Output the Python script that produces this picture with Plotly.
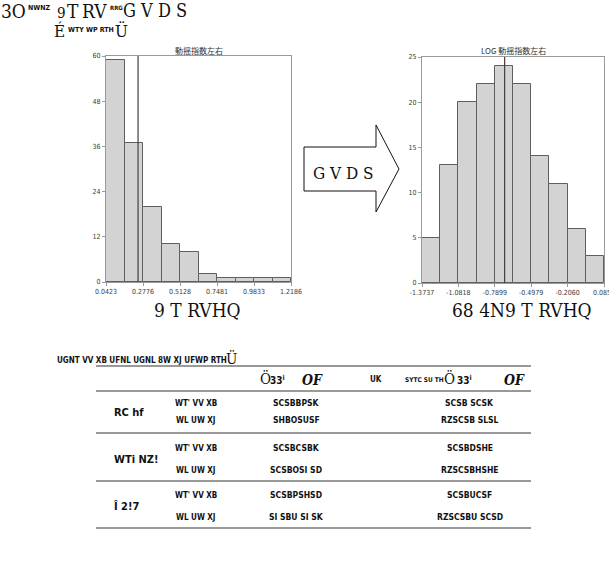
import numpy as np
import plotly.graph_objects as go

W, H = 609, 562

# ---------------- data ----------------
raw_range = [0.0423, 1.2186]
raw_counts = [59, 37, 20, 10, 8, 2, 1, 1, 1, 1]
raw_ticks = ["0.0423", "0.2776", "0.5128", "0.7481", "0.9833", "1.2186"]
raw_mean = 0.246

log_range = [-1.3737, 0.0859]
log_counts = [5, 13, 20, 22, 24, 22, 14, 11, 6, 3]
log_ticks = ["-1.3737", "-1.0818", "-0.7899", "-0.4979", "-0.2060", "0.0859"]
log_mean = -0.711

raw_title = "動揺指数左右"
log_title = "LOG 動揺指数左右"

group_labels = ["RC hf", "WTi NZ!", "Î 2!7"]
row_labels = ["WT' VV XB", "WL UW XJ"]
col1_values = ["SCSBBPSK", "SHBOSUSF", "SCSBCSBK", "SCSBOSI SD", "SCSBPSHSD", "SI SBU SI SK"]
col2_values = ["SCSB SCSK", "RZSCSB SLSL", "SCSBDSHE", "RZSCSBHSHE", "SCSBUCSF", "RZSCSBU SCSD"]


def px(x):
    return x / W


def py(y):
    return 1 - y / H


fig = go.Figure()


def hist(counts, rng, xa, ya):
    edges = np.linspace(rng[0], rng[1], len(counts) + 1)
    width = edges[1] - edges[0]
    centers = edges[:-1] + width / 2
    fig.add_trace(go.Bar(
        x=centers, y=counts, width=width, xaxis=xa, yaxis=ya,
        marker=dict(color="#d3d3d3", line=dict(color="#5e5e5e", width=1)),
        showlegend=False, hoverinfo="skip"))


hist(raw_counts, raw_range, "x", "y")
hist(log_counts, log_range, "x2", "y2")

axis_common = dict(showline=True, mirror=True, linecolor="#9a9a9a", linewidth=1,
                   ticks="outside", ticklen=3, tickcolor="#9a9a9a", showgrid=False,
                   zeroline=False, ticklabeloverflow="allow",
                   tickfont=dict(family="DejaVu Sans Condensed, DejaVu Sans", size=7, color="#3a3a3a"))

raw_tickvals = np.linspace(raw_range[0], raw_range[1], len(raw_ticks))
log_tickvals = np.linspace(log_range[0], log_range[1], len(log_ticks))

fig.update_layout(
    template="none",
    width=W, height=H, margin=dict(l=0, r=0, t=0, b=0),
    paper_bgcolor="white", plot_bgcolor="white", bargap=0,
    xaxis=dict(domain=[px(106), px(291)], range=raw_range, tickvals=raw_tickvals,
               ticktext=raw_ticks, anchor="y", **axis_common),
    yaxis=dict(domain=[py(282), py(56)], range=[0, 60], tickvals=[0, 12, 24, 36, 48, 60],
               anchor="x", **axis_common),
    xaxis2=dict(domain=[px(422), px(604)], range=log_range, tickvals=log_tickvals,
                ticktext=log_ticks, anchor="y2", **axis_common),
    yaxis2=dict(domain=[py(283), py(57)], range=[0, 25], tickvals=[0, 5, 10, 15, 20, 25],
                anchor="x2", **axis_common),
)

shapes = []
# mean lines
shapes.append(dict(type="line", xref="x", yref="y domain", x0=raw_mean, x1=raw_mean, y0=0, y1=1,
                   line=dict(color="#404040", width=1.2)))
shapes.append(dict(type="line", xref="x2", yref="y2 domain", x0=log_mean, x1=log_mean, y0=0, y1=1,
                   line=dict(color="#404040", width=1.2)))

# block arrow
pts = [(304, 147), (376, 147), (376, 125), (399, 169), (376, 212), (376, 191), (304, 191)]
path = "M " + " L ".join(f"{px(a):.5f},{py(b):.5f}" for a, b in pts) + " Z"
shapes.append(dict(type="path", xref="paper", yref="paper", path=path,
                   line=dict(color="#111", width=1), fillcolor="white"))

# table rules
for yy in [366, 391, 433, 481, 528]:
    shapes.append(dict(type="line", xref="paper", yref="paper", x0=px(96), x1=px(531),
                       y0=py(yy), y1=py(yy), line=dict(color="#777", width=1.5)))

fig.update_layout(shapes=shapes)

ann = []
SERIF = "DejaVu Serif Condensed, DejaVu Serif, serif"
COND = "DejaVu Sans Condensed, Liberation Sans Narrow, DejaVu Sans"


def text(t, x, y, size, family=SERIF, xanchor="left", color="#111", bold=False, yanchor="middle"):
    if bold:
        t = "<b>" + t + "</b>"
    ann.append(dict(text=t, x=px(x), y=py(y), xref="paper", yref="paper", xanchor=xanchor,
                    align=xanchor if xanchor != "center" else "center", borderpad=0,
                    yanchor=yanchor, showarrow=False,
                    font=dict(family=family, size=size, color=color)))


# header text lines
text("3O", 0, 11, 19)
text("NWNZ", 27, 8, 7, COND, bold=True)
text("9", 56, 13, 15)
text("T", 66, 11, 19)
text("RV", 81, 11, 19)
text("RRG", 109, 8, 6, COND, bold=True)
text("G V D S", 122, 11, 18)
text("É", 53, 31, 17)
text("WTY WP RTH", 67, 30, 7, COND, bold=True)
text("Ü", 114, 31, 17)

# chart titles
text(raw_title, 198.5, 51, 8, "Noto Sans CJK JP", "center", "#333")
text(log_title, 513, 51, 8, "Noto Sans CJK JP", "center", "#333")

# arrow text
text("G V D S", 343, 173, 17, SERIF, "center")

# labels under charts
text("9 T RVHQ", 197, 310, 19, SERIF, "center")
text("68 4N9 T RVHQ", 522, 310, 19, SERIF, "center")

# table title
text("UGNT VV XB UFNL UGNL 8W XJ UFWP RTH", 56, 360, 8, COND, bold=True)
text("Ü", 225, 359, 15)

# table header
text("Ö", 259, 379, 15)
text("33<sup>i</sup>", 269, 380, 10, COND, bold=True)
text("<b><i>OF</i></b>", 301, 380, 14, SERIF)
text("UK", 369, 379, 8, COND, bold=True)
text("SYTC SU TH", 404, 380, 6.5, COND, bold=True)
text("Ö", 443, 379, 15)
text("33<sup>i</sup>", 456, 380, 10, COND, bold=True)
text("<b><i>OF</i></b>", 503, 380, 14, SERIF)

# table body
row_y = [403, 420, 448, 470, 495, 517]
grp_y = [412, 459, 506]
for g, lab in enumerate(group_labels):
    text(lab, 113, grp_y[g], 11, COND, bold=True)
for i in range(6):
    text(row_labels[i % 2], 196, row_y[i], 8, COND, "center", bold=True)
    text(col1_values[i], 296, row_y[i], 8.5, COND, "center", bold=True)
    text(col2_values[i], 470, row_y[i], 8.5, COND, "center", bold=True)

# bottom cut-off glyphs (only their tops show at the page edge)
text("R    ro    R", 2, 558, 20, SERIF, yanchor="top")

fig.update_layout(annotations=ann)
fig.write_html("out.html")
